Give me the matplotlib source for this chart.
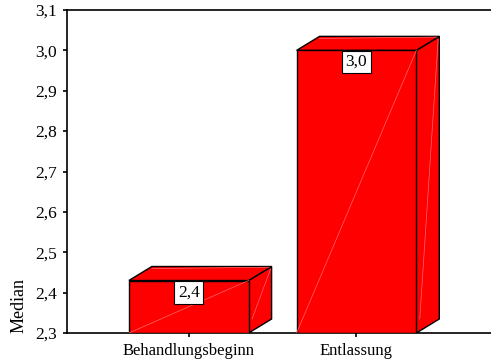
import numpy as np
import matplotlib.pyplot as plt
from matplotlib.ticker import FuncFormatter

categories = ['Behandlungsbeginn', 'Entlassung']
medians = [2.43, 3.0]
bar_labels = ['2,4', '3,0']

plt.rcParams['font.family'] = ['Liberation Serif', 'DejaVu Serif']

fig = plt.figure(figsize=(4.91, 3.6), dpi=100)
ax = fig.add_axes([67 / 491, 27 / 360, 430 / 491, 323 / 360])

base = 2.3
width = 0.714
dx, dy = 0.137, 0.0347   # depth of the 3d box
red = '#ff0000'
seam = '#ff6a6a'

x = np.arange(len(categories))
for xi, val, lab in zip(x, medians, bar_labels):
    xl, xr = xi - width / 2, xi + width / 2
    # side face
    ax.fill([xr, xr + dx, xr + dx, xr], [base, base + dy, val + dy, val],
            facecolor=red, edgecolor='black', linewidth=1, zorder=2)
    # top face
    ax.fill([xl, xr, xr + dx, xl + dx], [val, val, val + dy, val + dy],
            facecolor=red, edgecolor='black', linewidth=1, zorder=2)
    # front face
    ax.fill([xl, xr, xr, xl], [base, base, val, val],
            facecolor=red, edgecolor='black', linewidth=1, zorder=3)
    # faint render seams
    ax.plot([xl, xr], [base, val], color=seam, lw=0.5, zorder=3.5)
    ax.plot([xr + dx * 0.15, xr + dx * 0.95], [base + dy, val + dy * 0.8],
            color=seam, lw=0.5, zorder=3.5)
    ax.plot([xl + dx, xr + dx * 0.9], [val + dy * 0.85, val + dy * 0.95],
            color=seam, lw=0.5, zorder=3.5)
    ax.text(xi, val - 0.009, lab, ha='center', va='top', fontsize=12.5,
            bbox=dict(boxstyle='square,pad=0.2', facecolor='white',
                      edgecolor='black', linewidth=0.8), zorder=5)

ax.set_xlim(-0.726, 1.798 + 0.04)
ax.set_ylim(2.3, 3.1)
ax.set_yticks(np.arange(2.3, 3.11, 0.1))
ax.yaxis.set_major_formatter(FuncFormatter(lambda v, p: f'{v:.1f}'.replace('.', ',')))
ax.set_xticks(x)
ax.set_xticklabels(categories)
ax.tick_params(axis='both', direction='out', length=3, width=1.2)
ax.tick_params(axis='y', pad=4, labelsize=12.5)
ax.tick_params(axis='x', pad=4, labelsize=12)
ax.spines['right'].set_visible(False)
for s in ['top', 'bottom', 'left']:
    ax.spines[s].set_linewidth(1.2)
ax.set_ylabel('Median', fontsize=13, loc='bottom', labelpad=6)

fig.savefig('out.png', dpi=100)
